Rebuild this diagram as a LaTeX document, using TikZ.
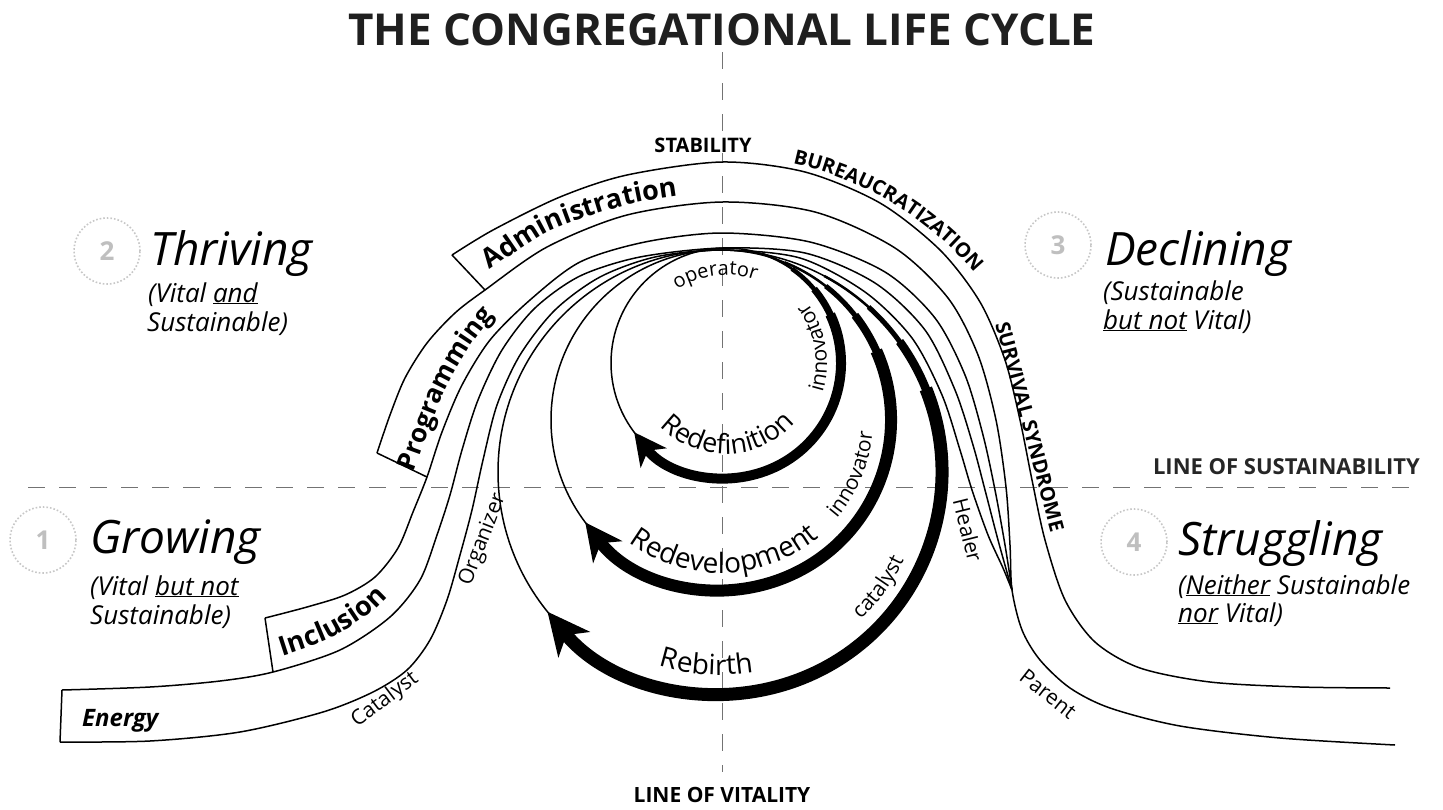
\documentclass[tikz,border=0pt]{standalone}
\usepackage{fontspec}
\setmainfont{Open Sans}
\usetikzlibrary{arrows.meta,decorations.text}
\newcommand\myul[1]{\underline{#1}}
\begin{document}
\begin{tikzpicture}[x=1pt,y=-1pt,
  curve/.style={line width=1.5pt, line join=round},
  dashline/.style={line width=1pt, black!55, dash pattern=on 17pt off 14pt},
  quad/.style={font=\fontsize{46}{46}\selectfont\itshape, anchor=base west, inner sep=0pt},
  sub/.style={font=\fontsize{26}{26}\selectfont\itshape, anchor=base west, inner sep=0pt},
  capslab/.style={font=\fontsize{20}{20}\selectfont\bfseries, inner sep=1pt},
  lead/.style={font=\fontsize{21}{21}\selectfont, inner sep=0pt},
  numring/.style={draw=black!22, dotted, line width=1.6pt, circle, minimum size=66pt, inner sep=0pt, text=black!25, font=\fontsize{26}{26}\selectfont\bfseries},
  ontextc/.style={decorate, decoration={text along path, text align=center, text={#1}}},
  ontextl/.style={decorate, decoration={text along path, text align=left, text={#1}}},
]
\fill[white] (0,0) rectangle (1443,809);
\useasboundingbox (0,0) rectangle (1443,809);

% title
\node[font=\fontsize{44}{44}\selectfont\bfseries, text=black!88] (title) at (722,30) {THE CONGREGATIONAL LIFE CYCLE};

% axes
\draw[dashline] (28,487) -- (1413,487);
\draw[dashline] (722,52) -- (722,772);

% key points
\coordinate (eA) at (62,690); \coordinate (eB) at (60,742);
\coordinate (iA) at (265,618); \coordinate (iB) at (273,672);
\coordinate (pA) at (377,453); \coordinate (pB) at (427,477);
\coordinate (aA) at (452,255); \coordinate (aB) at (485,290);
\coordinate (conv) at (1012,590);
\coordinate (c1) at (726,363);
\coordinate (c2) at (721,420);
\coordinate (c3) at (720,472);
\coordinate (cB) at (722,487);

% main curves
\draw[curve] plot[smooth] coordinates {(aA) (493,230) (560,197) (627,175) (722,162) (805,172) (880,203) (940,250) (980,302) (1005,360) (1020,420) (1032,480) (1045,540) (1065,600) (1095,642) (1140,668) (1210,682) (1300,687) (1390,688)};
\draw[curve] plot[smooth] coordinates {(pA) (390,415) (405,378) (427,343) (455,313) (aB) (547,247) (627,215) (722,202) (815,212) (895,248) (948,298) (978,355) (996,420) (1006,487) (1010,545) (conv) (1022,630) (1040,660) (1070,688) (1110,708) (1180,726) (1280,738) (1395,745)};
\draw[curve] plot[smooth] coordinates {(iA) (307,607) (345,595) (375,577) (398,548) (413,512) (pB) (442,432) (462,385) (490,340) (530,300) (580,262) (645,242) (722,233) (810,242) (885,272) (935,318) (965,375) (983,435) (995,490) (1005,545) (conv)};
\draw[curve] plot[smooth] coordinates {(eA) (150,687) (220,681) (iB) (340,650) (390,617) (420,580) (437,535) (450,495) (462,450) (478,400) (502,350) (535,308) (580,276) (640,257) (722,248) (805,253) (875,283) (925,330) (955,390) (973,445) (985,490) (998,540) (conv)};
\draw[curve] plot[smooth] coordinates {(eB) (150,741) (240,732) (323,712) (373,692) (407,670) (430,640) (447,600) (460,555) (472,510) (483,460) (497,405) (520,355) (555,310) (600,277) (655,257) (722,250) (800,258) (865,292) (912,338) (942,395) (960,450) (972,490) (988,535) (1003,568) (conv)};

% box caps
\draw[curve] (aA) -- (aB);
\draw[curve] (pA) -- (pB);
\draw[curve] (iA) -- (iB);
\draw[curve] (eA) -- (eB);

% loops
\draw[curve] (c1) circle[radius=115];
\draw[curve] (c2) circle[radius=170];
\draw[curve] (c3) circle[radius=222];

\draw[line width=2.5pt] ([shift={(-72:115)}]c1) arc[start angle=-72, end angle=-30, radius=115];
\draw[line width=4.5pt] ([shift={(-55:115)}]c1) arc[start angle=-55, end angle=-10, radius=115];
\draw[line width=7pt] ([shift={(-40:115)}]c1) arc[start angle=-40, end angle=0, radius=115];
\draw[line width=10pt, -{Stealth[length=32pt,width=32pt,inset=9pt]}] ([shift={(-25:115)}]c1) arc[start angle=-25, end angle=143, radius=115];

\draw[line width=2.5pt] ([shift={(-68:170)}]c2) arc[start angle=-68, end angle=-30, radius=170];
\draw[line width=5pt] ([shift={(-52:170)}]c2) arc[start angle=-52, end angle=-10, radius=170];
\draw[line width=8pt] ([shift={(-38:170)}]c2) arc[start angle=-38, end angle=0, radius=170];
\draw[line width=12pt, -{Stealth[length=37pt,width=36pt,inset=11pt]}] ([shift={(-24:170)}]c2) arc[start angle=-24, end angle=143, radius=170];

\draw[line width=2.5pt] ([shift={(-62:222)}]c3) arc[start angle=-62, end angle=-30, radius=222];
\draw[line width=5pt] ([shift={(-48:222)}]c3) arc[start angle=-48, end angle=-12, radius=222];
\draw[line width=8.5pt] ([shift={(-36:222)}]c3) arc[start angle=-36, end angle=-2, radius=222];
\draw[line width=13pt, -{Stealth[length=42pt,width=40pt,inset=12pt]}] ([shift={(-22:222)}]c3) arc[start angle=-22, end angle=141, radius=222];

% texts on loops
\path[ontextc={|\fontsize{27}{27}\selectfont|Redefinition}] ([shift={(160:91)}]c1) arc[start angle=160, end angle=17, radius=91];
\path[ontextc={|\fontsize{28}{28}\selectfont|Redevelopment}] ([shift={(150:153)}]c2) arc[start angle=150, end angle=27, radius=153];
\path[ontextc={|\fontsize{28}{28}\selectfont|Rebirth}] ([shift={(125:203)}]c3) arc[start angle=125, end angle=63, radius=203];
\path[ontextc={|\fontsize{20}{20}\selectfont|operator}] ([shift={(223:88)}]c1) arc[start angle=223, end angle=303, radius=88];
\path[ontextc={|\fontsize{21}{21}\selectfont|innovator}] ([shift={(25:101)}]c1) arc[start angle=25, end angle=-45, radius=101];
\path[ontextc={|\fontsize{21}{21}\selectfont|innovator}] ([shift={(55:152)}]c2) arc[start angle=55, end angle=-10, radius=152];
\path[ontextc={|\fontsize{21}{21}\selectfont|catalyst}] ([shift={(62:204)}]c3) arc[start angle=62, end angle=10, radius=204];

% texts on the band
\path[ontextl={|\fontsize{27}{27}\selectfont\bfseries|Administration}] plot[smooth] coordinates {(490,270) (550,231) (627,205) (700,193) (760,190)};
\path[ontextl={|\fontsize{26}{26}\selectfont\bfseries|Programming}] plot[smooth] coordinates {(414,472) (430,428) (451,379) (481,331) (522,289) (575,252)};
\path[ontextl={|\fontsize{27}{27}\selectfont\bfseries|Inclusion}] plot[smooth] coordinates {(282,656) (331,638) (378,607) (406,573) (420,540)};
\node[font=\fontsize{24}{24}\selectfont\bfseries\itshape, anchor=base west, inner sep=0pt] (energy) at (82,726) {Energy};

\path[ontextc={|\fontsize{20}{20}\selectfont\bfseries|BUREAUCRATIZATION}] ([shift={(-86:331)}]cB) arc[start angle=-86, end angle=-32, radius=331];
\coordinate (ss1) at (992,312);
\coordinate (ss2) at (1054,545);
\path[ontextc={|\fontsize{20}{20}\selectfont\bfseries|SURVIVAL SYNDROME}] (ss1) -- (ss2);

% leadership labels
\node[lead, rotate=69] (org) at (483,540) {Organizer};
\node[lead, rotate=37] (cat) at (385,700) {Catalyst};
\node[lead, rotate=-76] (heal) at (968,530) {Healer};
\node[lead, rotate=-38] (par) at (1048,694) {Parent};

% axis labels
\node[capslab, fill=white] (stab) at (703,145) {STABILITY};
\node[capslab, font=\fontsize{22}{22}\selectfont\bfseries, anchor=base east, text=black!85] (los) at (1421,474) {LINE OF SUSTAINABILITY};
\node[capslab, font=\fontsize{21}{21}\selectfont\bfseries] (lov) at (722,795) {LINE OF VITALITY};

% quadrant labels
\node[numring] (n2) at (107,251) {2};
\node[numring] (n1) at (43,540) {1};
\node[numring] (n3) at (1058,245) {3};
\node[numring] (n4) at (1134,542) {4};

\node[quad] (thr) at (150,265) {Thriving};
\node[sub] (thr1) at (148,302) {(Vital \myul{and}};
\node[sub] (thr2) at (147,331) {Sustainable)};

\node[quad] (gro) at (90,553) {Growing};
\node[sub] (gro1) at (90,595) {(Vital \myul{but not}};
\node[sub] (gro2) at (90,624) {Sustainable)};

\node[quad] (dec) at (1105,265) {Declining};
\node[sub] (dec1) at (1103,300) {(Sustainable};
\node[sub] (dec2) at (1103,329) {\myul{but not} Vital)};

\node[quad] (str) at (1178,555) {Struggling};
\node[sub] (str1) at (1178,594) {(\myul{Neither} Sustainable};
\node[sub] (str2) at (1178,622) {\myul{nor} Vital)};
\end{tikzpicture}
\end{document}
